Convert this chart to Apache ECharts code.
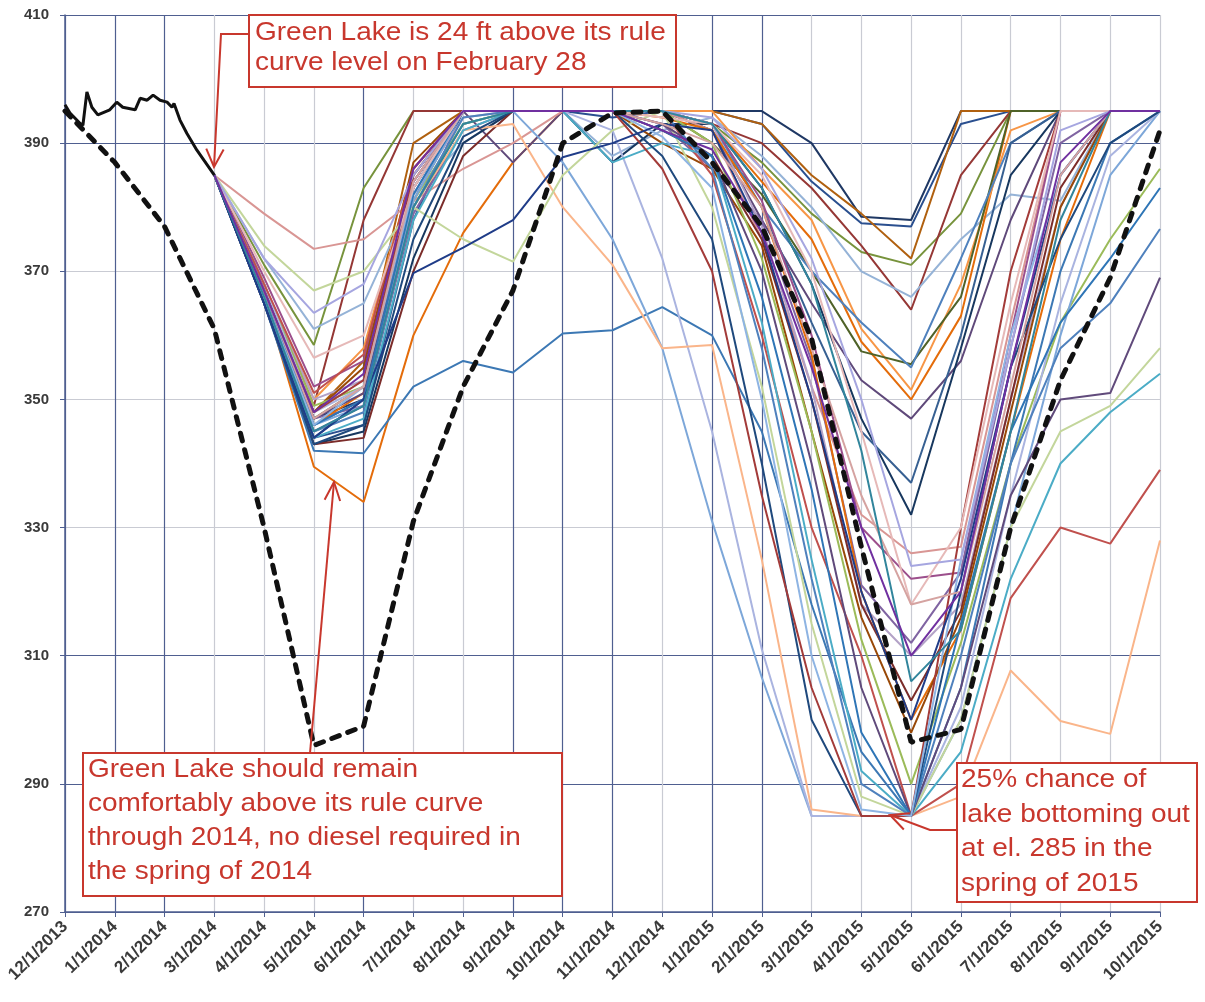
<!DOCTYPE html>
<html><head><meta charset="utf-8">
<script src="https://cdn.jsdelivr.net/npm/echarts@6/dist/echarts.min.js"></script>
<style>html,body{margin:0;padding:0;background:#fff}#c{width:1205px;height:1002px}</style>
</head><body><div id="c"></div>
<script>
// ---------- DATA ----------
const monthLabels = ['12/1/2013','1/1/2014','2/1/2014','3/1/2014','4/1/2014','5/1/2014','6/1/2014','7/1/2014','8/1/2014','9/1/2014','10/1/2014','11/1/2014','12/1/2014','1/1/2015','2/1/2015','3/1/2015','4/1/2015','5/1/2015','6/1/2015','7/1/2015','8/1/2015','9/1/2015','10/1/2015'];
const yMin = 270, yMax = 410, yStep = 20;

// rule curve (dashed), one value per month label
const ruleCurve = [395,387,377,361,330,296,299,331,352,367,390,394.7,395,387,377,359.5,327,296.5,298.5,330,353,369,392];

// observed lake level (solid black), month index / elevation
const observedMonth = [0,0.1,0.3,0.36,0.44,0.54,0.66,0.9,1.04,1.16,1.41,1.51,1.65,1.77,1.91,2.05,2.15,2.19,2.31,2.45,2.65,3];
const observedLevel = [396,394.7,393.1,392.8,398,395.6,394.4,395.2,396.4,395.6,395.2,397,396.7,397.5,396.7,396.4,395.6,396.2,393.6,391.5,388.9,385];

// forecast traces: monthly values from 3/1/2014 (index 3) to 10/1/2015 (index 22)
const traceStart = 3;
const t01 = [385,368,347,350,384,395,395,395,395,395, 395,395,390,378.5,378,395,395,395,395,395];
const t02 = [385,366,344,346,378,395,395,395,394,395, 395,393,384,377.5,377,393,395,395,395,395];
const t03 = [385,367,348,356,390,395,395,395,395,395, 395,393,385,379,372,395,395,395,395,395];
const t04 = [385,371,358.5,383,395,395,395,395,395,395, 393,387,379,373,371,379,395,395,395,395];
const t05 = [385,368,349,378,395,395,395,395,395,395, 393,390,383,374,364,385,395,395,395,395];
const t06 = [385,372,361,365,382,390,395,395,388,392, 394,388,380,370,366,375,382,381,395,395];
const t07 = [385,366,339.5,334,360,376,387,395,395,395, 393,384,375,359,350,363,395,395,395,395];
const t08 = [385,368,350,358,386,395,395,395,395,395, 395,386,378,361,351.5,368,392,395,395,395];
const t09 = [385,367,347,352,385,395,395,395,395,395, 390,382,370,357.5,355.5,366,395,395,395,395];
const t10 = [385,366,345,348,380,393,395,395,395,395, 393,380,370,362,355,372,390,395,395,395];
const t11 = [385,367,346,350,383,395,387,395,395,395, 392,378,365,353,347,356,378,395,395,395];
const t12 = [385,365,343,345,372,390,395,395,387,393, 393,383,368,347,332,358,385,395,395,395];
const t13 = [385,366,344,350,381,395,395,395,395,395, 392,380,362,345,337,360,390,395,395,395];
const t14 = [385,379,373.5,375,381,386,390,395,395,395, 392,375,352,332,326,327,362,395,395,395];
const t15 = [385,369,352,356,384,395,395,395,395,395, 393,381,360,330,322,323,360,395,395,395];
const t16 = [385,367,347,349,379,392,395,395,395,393, 386,378,356,321,312,323,358,390,395,395];
const t17 = [385,368,350,353,382,394,395,395,395,395, 393,377,352,318,310,318,350,380,395,395];
const t18 = [385,365,343,344,370,388,395,395,395,392, 388,375,350,318,303,317,350,383,395,395];
const t19 = [385,366,346,351,383,395,395,395,395,394, 392,380,357,320,300,314,345,375,395,395];
const t20 = [385,367,348,355,387,395,395,395,395,390, 386,374,345,316,298,316,348,380,395,395];
const t21 = [385,368,349,352,381,393,395,395,395,395, 390,372,345,312.5,290,312,340,362,375,386];
const t22 = [385,365,342,341.6,352,356,354.2,360.3,360.8,364.4, 360,345,318,295,285,305,340,370,390,395];
const t23 = [385,366,346,349,381,395,395,387,375,358, 331,306.6,285,285,285,300,330,360,385,395];
const t24 = [385,368,348,352,382,395,395,395,392,372, 345,311,285,285,285,302,335,365,388,395];
const t25 = [385,366,345,349,380,392,393,380,371,358, 358.5,325,286,285,285,288,307.7,299.8,297.8,328];
const t26 = [385,368,351,357,386,395,395,395,395,395, 385,360,330,310,285,290,319,330,327.5,339];
const t27 = [385,366,344,347,378,392,395,395,387,390, 388,362,325,292,285,295,322,340,348,354];
const t28 = [385,374,367,370,380,375,371.5,385,392,395, 380,352,315,288,285,300,330,345,349,358];
const t29 = [385,367,347,351,383,395,395,395,395,393, 388,370,340,305,285,305,335,350,351,369];
const t30 = [385,366,345,349,380,394,395,395,395,395, 386,358,322,290,285,310,340,358,365,376.6];
const t31 = [385,367,346,350,382,395,395,395,395,392, 388,366,336,298,285,315,345,362,372,383];
const t32 = [385,365,343,346,375,391,395,395,395,388, 375,340,300,285,285,320,355,375,390,395];
const t33 = [385,367,348,353,385,395,395,395,395,386, 370,335,305,285,285,330,370,395,395,395];
const t34 = [385,366,346,352,383,395,395,395,395,391, 383,350,310,286,285,325,360,385,395,395];
const t35 = [385,365,344,350,369.7,373.7,378,387.8,390,393, 392,376,350,320,300,322,355,385,395,395];
const t36 = [385,370,356.5,360,383,395,395,395,395,394, 393,385,370,345,318,330,365,395,395,395];
const t37 = [385,372,363.5,368,385,395,395,395,395,395, 394,386,372,350,324,325,358,392,395,395];
const t38 = [385,367,347,352,384,395,395,395,395,393, 390,380,358,335,318,320,352,385,395,395];
const t39 = [385,366,345,349,380,393,395,395,395,395, 393,383,368,342,306,314,345,378,395,395];
const t40 = [385,367,348,354,386,395,395,395,395,392, 389,376,355,330,310,320,355,387,395,395];

const traces = [t01,t02,t03,t04,t05,t06,t07,t08,t09,t10,t11,t12,t13,t14,t15,t16,t17,t18,t19,t20,
                t21,t22,t23,t24,t25,t26,t27,t28,t29,t30,t31,t32,t33,t34,t35,t36,t37,t38,t39,t40];
const traceColors = ['#1f3864','#2a4f8f','#b0600f','#77933c','#953735','#95b3d7','#e46c0a','#f79646','#4f6228','#4f81bd',
                     '#5f497a','#17375e','#376092','#d99694','#9c4f8c','#8064a2','#b3a2c7','#7b2c2a','#e46c0a','#984807',
                     '#9bbb59','#3c78b4','#7da7d9','#aab4e0','#fab58a','#c0504d','#4bacc6','#c3d69b','#604a7b','#4f81bd',
                     '#2e75b6','#1f497d','#a33b39','#8eb4e3','#1f3c88','#e6b9b8','#a6a6e0','#d5a3a1','#31859c','#7030a0'];

// ---------- STYLE ----------
const D = '#4f5f90', L = '#c9cbd3';
const xGridColors = [D,D,D,L,L,L,D,L,L,D,D,D,L,D,D,L,L,L,L,L,L,L,L];
const yGridColors = [D,D,D,L,L,L,D,D];
const RED = '#c8372d';

const series = traces.map((tr, k) => ({
  type: 'line', data: tr.map((v, j) => [traceStart + j, v]),
  showSymbol: false, silent: true, animation: false,
  lineStyle: { width: 2, color: traceColors[k] }, z: 2
}));
series.push({
  type: 'line', data: ruleCurve.map((v, j) => [j, v]), showSymbol: false, silent: true, animation: false,
  lineStyle: { width: 5, color: '#111', type: [8, 9], cap: 'round' }, z: 5
});
series.push({
  type: 'line', data: observedMonth.map((m, j) => [m, observedLevel[j]]), showSymbol: false, silent: true, animation: false,
  lineStyle: { width: 3, color: '#111' }, z: 6
});

function arrowHead(tip, from, len, ang) {
  const a = Math.atan2(from[1] - tip[1], from[0] - tip[0]);
  return [[tip[0] + len * Math.cos(a + ang), tip[1] + len * Math.sin(a + ang)], tip,
          [tip[0] + len * Math.cos(a - ang), tip[1] + len * Math.sin(a - ang)]];
}
const font = '25px "Liberation Sans", Arial, sans-serif';
function box(x, y, w, h) {
  return { type: 'rect', shape: { x, y, width: w, height: h }, style: { fill: '#fff', stroke: RED, lineWidth: 2 }, z: 20 };
}
function txt(x, y, text, lh) {
  return { type: 'text', x, y, scaleX: 1.12, style: { text, font, fill: RED, lineHeight: lh, verticalAlign: 'top', textVerticalAlign: 'top' }, z: 21 };
}
function pl(points) {
  return { type: 'polyline', shape: { points }, style: { stroke: RED, lineWidth: 2, fill: null }, z: 20 };
}
const a1 = [[249, 34], [221, 34], [214, 167]];
const a2 = [[310, 753], [334, 482]];
const a3 = [[957, 830], [930, 830], [890, 815]];

const option = {
  animation: false,
  backgroundColor: '#fff',
  grid: { left: 65, right: 45, top: 15, bottom: 90, containLabel: false },
  xAxis: {
    type: 'value', min: 0, max: monthLabels.length - 1, interval: 1,
    axisLine: { lineStyle: { color: D, width: 1.5 } },
    axisTick: { show: true, length: 5, lineStyle: { color: D } },
    axisLabel: { rotate: 45, margin: 12, fontSize: 17, fontWeight: 'bold', color: '#3a3a3a',
      fontFamily: '"Liberation Sans Narrow", "Liberation Sans", Arial, sans-serif',
      formatter: v => monthLabels[Math.round(v)] || '' },
    splitLine: { show: true, lineStyle: { color: xGridColors, width: 1.2 } }
  },
  yAxis: {
    type: 'value', min: yMin, max: yMax, interval: yStep,
    axisLine: { show: true, lineStyle: { color: D, width: 1.5 } },
    axisTick: { show: true, length: 5, lineStyle: { color: D } },
    axisLabel: { margin: 16, fontSize: 15, fontWeight: 'bold', color: '#3a3a3a',
      fontFamily: '"Liberation Sans", Arial, sans-serif' },
    splitLine: { show: true, lineStyle: { color: yGridColors, width: 1.2 } }
  },
  series,
  graphic: [
    pl(a1), pl(arrowHead(a1[2], a1[1], 20, 0.45)),
    box(249, 15, 427, 72), txt(255, 18, 'Green Lake is 24 ft above its rule\ncurve level on February 28', 30),
    pl(a2), pl(arrowHead(a2[1], a2[0], 20, 0.4)),
    box(83, 753, 479, 143), txt(88, 753, 'Green Lake should remain\ncomfortably above its rule curve\nthrough 2014, no diesel required in\nthe spring of 2014', 34),
    pl(a3), pl(arrowHead(a3[2], a3[1], 20, 0.45)),
    box(957, 763, 240, 139), txt(961, 763, '25% chance of\nlake bottoming out\nat el. 285 in the\nspring of 2015', 34.5)
  ]
};
const chart = echarts.init(document.getElementById('c'), null, { renderer: 'canvas' });
chart.setOption(option);
</script></body></html>
